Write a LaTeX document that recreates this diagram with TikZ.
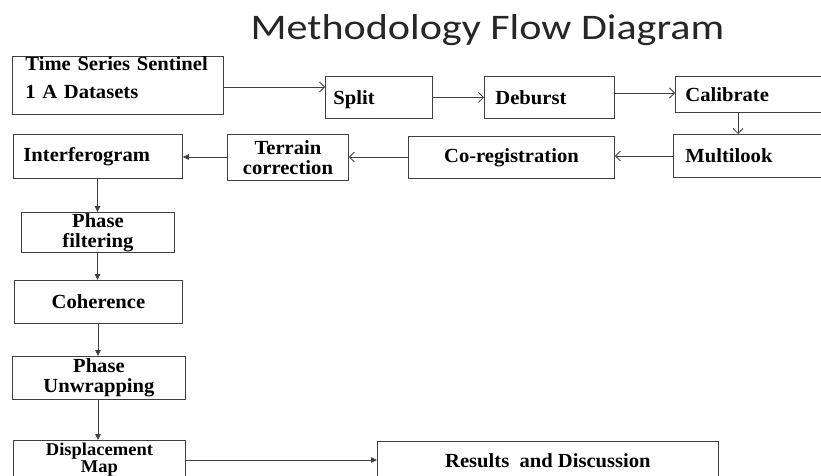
\documentclass[tikz,border=0pt]{standalone}
\usepackage{fontspec}
\setmainfont{Liberation Serif}[FakeStretch=1.03]
\newfontfamily\titlefont{Carlito}[FakeStretch=1.17]
\usetikzlibrary{arrows.meta}
\definecolor{edge}{HTML}{404040}
\begin{document}
\begin{tikzpicture}[x=1pt,y=-1pt,
  box/.style={draw=edge, line width=0.9pt, rectangle, inner ysep=0pt,
    anchor=north west, font=\fontsize{20}{20}\selectfont\bfseries},
  lbox/.style n args={3}{box, minimum width=#1, minimum height=#2,
    inner xsep=#3, text width=#1-2*#3, align=left},
  cbox/.style 2 args={box, minimum width=#1, minimum height=#2,
    inner xsep=0pt, align=center},
  openarrow/.style={-{Straight Barb[length=5pt,width=10pt]}, draw=edge, line width=0.8pt},
  fillarrow/.style={-{Triangle[length=6pt,width=5.5pt]}, draw=edge, line width=0.8pt}
]
\useasboundingbox (0,0) rectangle (821,476);
\clip (0,0) rectangle (821,476);

\node[anchor=base, font=\titlefont\fontsize{36}{36}\selectfont, text=black!85] (title) at (487.5,40) {Methodology Flow Diagram};

\node[lbox={211}{56}{13}] (time) at (12,56) {Time Series Sentinel\\[8pt]1 A Datasets\\[-4.3pt]\mbox{}};
\node[lbox={107}{42}{8}, text depth=0pt] (split) at (325,76) {Split};
\node[lbox={130}{42}{11}] (deburst) at (484,76) {Deburst};
\node[lbox={155}{36}{10}] (calibrate) at (675,76) {Calibrate};
\node[lbox={157}{43}{12}] (multilook) at (673,134) {Multilook};
\node[cbox={206}{42}] (coreg) at (408,136) {Co-registration};
\node[cbox={121}{46}] (terrain) at (227,134) {Terrain\\correction};
\node[lbox={169}{44}{10}] (interf) at (13,134) {Interferogram};
\node[cbox={153}{40}] (phasef) at (21,212) {Phase\\filtering};
\node[cbox={168}{43}] (coher) at (14,280) {Coherence};
\node[cbox={173}{43}] (unwrap) at (12,356) {Phase\\Unwrapping};
\node[cbox={172}{48}, font=\fontsize{18}{17.5}\selectfont\bfseries] (disp) at (13,440) {Displacement\\Map\\[-3.9pt]\mbox{}};
\node[cbox={341}{38}] (results) at (377,441) {Results\ \ and Discussion};

\draw[openarrow] (time.east |- 0,87) -- (split.west |- 0,87);
\draw[openarrow] (split) -- (deburst);
\draw[openarrow] (deburst.east |- 0,93) -- (calibrate.west |- 0,93);
\draw[openarrow] (calibrate.south -| 738,0) -- (multilook.north -| 738,0);
\draw[openarrow] (multilook.west |- 0,156) -- (coreg.east |- 0,156);
\draw[openarrow] (coreg.west |- 0,157) -- (terrain.east |- 0,157);
\draw[fillarrow] (terrain.west |- 0,157) -- (interf.east |- 0,157);
\draw[fillarrow] (interf.south -| 97.5,0) -- (phasef.north -| 97.5,0);
\draw[fillarrow] (phasef.south -| 97.5,0) -- (coher.north -| 97.5,0);
\draw[fillarrow] (coher.south -| 98,0) -- (unwrap.north -| 98,0);
\draw[fillarrow] (unwrap.south -| 98,0) -- (disp.north -| 98,0);
\draw[fillarrow] (disp.east |- 0,460) -- (results.west |- 0,460);
\end{tikzpicture}
\end{document}
